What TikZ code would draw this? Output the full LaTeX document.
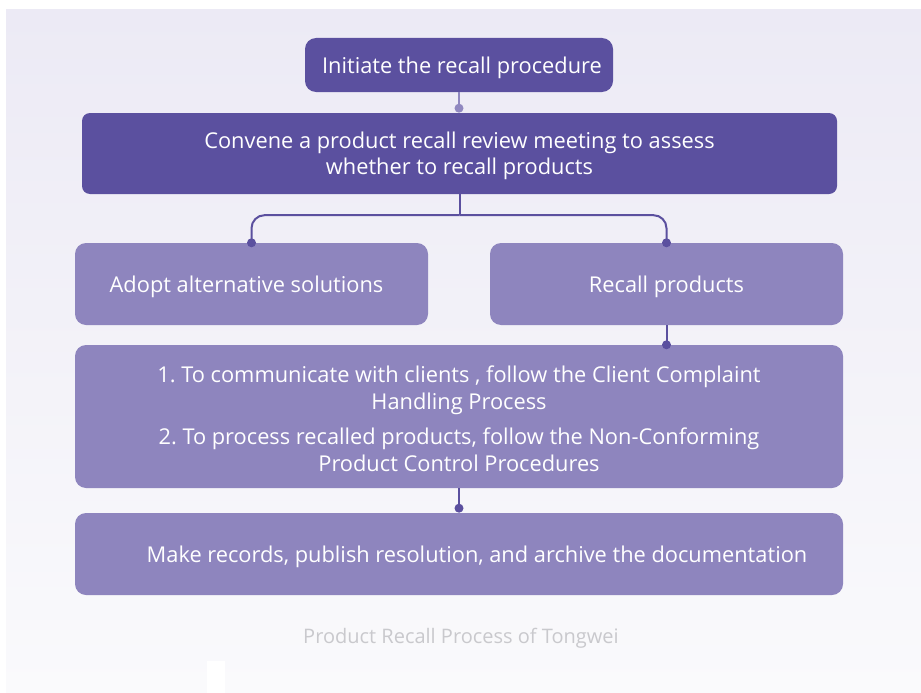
\documentclass[tikz,border=0pt]{standalone}
\usepackage{fontspec}
\setmainfont{Open Sans}
\usetikzlibrary{calc}
\definecolor{dark}{HTML}{5B509F}
\definecolor{light}{HTML}{8E85BE}
\definecolor{pale}{HTML}{9088C0}
\definecolor{bgtop}{HTML}{ECEAF5}
\definecolor{bgbot}{HTML}{FAFAFC}
\definecolor{cap}{HTML}{C9C9CD}
\tikzset{
  box/.style={rectangle, rounded corners=11pt, inner sep=0pt},
  darkbox/.style={box, fill=dark},
  lightbox/.style={box, fill=light},
  btext/.style={text=white, align=center, inner sep=0pt,
    font=\fontsize{21.8}{26.5}\selectfont},
  conn/.style={draw=dark, line width=2pt},
}
\begin{document}
\frenchspacing
\begin{tikzpicture}[x=1pt,y=-1pt]
\useasboundingbox (0,0) rectangle (921,693);
\fill[white] (0,0) rectangle (921,693);
\shade[top color=bgtop, bottom color=bgbot] (6,10) rectangle (921,693);
\fill[white] (207,661) rectangle (225,693);

\node[darkbox, minimum width=308pt, minimum height=54pt] (b1) at (459,65) {};
\node[darkbox, rounded corners=8pt, minimum width=755pt, minimum height=81pt] (b2) at (459.5,153.5) {};
\node[lightbox, minimum width=353pt, minimum height=82pt] (b3l) at (251.5,284) {};
\node[lightbox, minimum width=353pt, minimum height=82pt] (b3r) at (666.5,284) {};
\node[lightbox, minimum width=768pt, minimum height=143pt] (b4) at (459,416.5) {};
\node[lightbox, minimum width=768pt, minimum height=82pt] (b5) at (459,554) {};

\node[btext] (t1) at (462,67.5) {Initiate the recall procedure};
\node[btext] (t2) at (459.5,156) {Convene a product recall review meeting to assess\\whether to recall products};
\node[btext] (t3l) at (246.5,286.5) {Adopt alternative solutions};
\node[btext] (t3r) at (666.5,286.5) {Recall products};
\node[btext] (t4) at (459,419)
  {1. To communicate with clients , follow the Client Complaint\\Handling Process\\[9pt]2. To process recalled products, follow the Non-Conforming\\Product Control Procedures};
\node[btext] (t5) at (477,556.5) {Make records, publish resolution, and archive the documentation};

% connector 1
\coordinate (d1) at ($(b1.south)+(0,16)$);
\draw[draw=pale, line width=2pt] (b1.south) -- (d1);
\fill[pale] (d1) circle (4.5pt);

% branch
\coordinate (br) at ($(b2.south)+(0,21)$);
\draw[conn] (b2.south) -- (br);
\draw[conn, rounded corners=13pt] (br) -| (b3l.north);
\draw[conn, rounded corners=13pt] (br) -| (b3r.north);
\fill[dark] (b3l.north) circle (4.5pt);
\fill[dark] (b3r.north) circle (4.5pt);

% recall -> b4
\draw[conn] (b3r.south) -- (b3r.south |- b4.north);
\fill[dark] (b3r.south |- b4.north) circle (4.5pt);

% b4 -> b5
\coordinate (d5) at ($(b4.south)+(0,20)$);
\draw[conn] (b4.south) -- (d5);
\fill[dark] (d5) circle (4.5pt);

\node[text=cap, font=\fontsize{20}{24}\selectfont, inner sep=0pt] (caption) at (461,638) {Product Recall Process of Tongwei};
\end{tikzpicture}
\end{document}
